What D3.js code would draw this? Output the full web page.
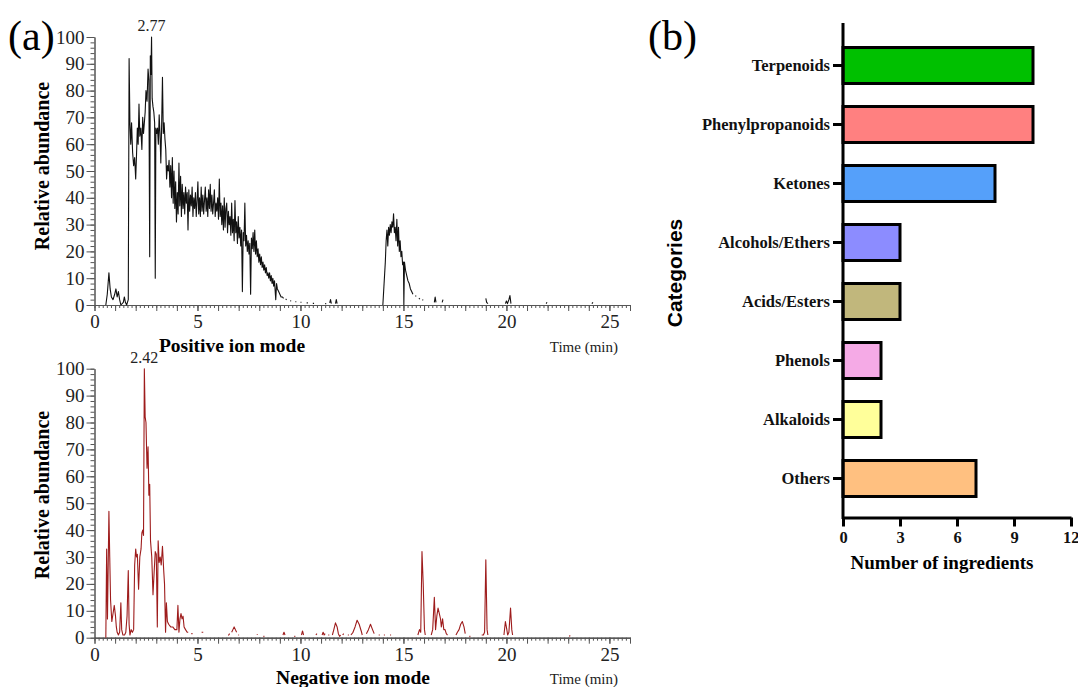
<!DOCTYPE html>
<html>
<head>
<meta charset="utf-8">
<script src="https://cdn.jsdelivr.net/npm/d3@7"></script>
<style>
  body { margin: 0; background: #fff; }
  svg { display: block; }
  .serif { font-family: "Liberation Serif", "Times New Roman", serif; }
</style>
</head>
<body>
<svg id="fig" width="1078" height="687"></svg>
<script>
'use strict';

// chromatogram traces, [time (min), relative abundance]; null = gap in the trace
const posTrace = [
  [0.55,0],[0.62,4],[0.7,12],[0.76,6],[0.82,3],[0.9,2],[0.98,4],[1.04,6],[1.1,3],[1.16,5],[1.22,2],[1.28,0],
  [1.4,1],[1.45,3],[1.5,1],[1.56,0],[1.6,1],[1.64,2],[1.68,92],[1.72,68],[1.76,60],[1.8,68],[1.85,57],[1.9,52],
  [1.95,55],[2.0,47],[2.04,56],[2.08,66],[2.12,60],[2.16,75],[2.2,63],[2.25,66],[2.3,58],[2.34,70],[2.38,64],
  [2.42,68],[2.46,72],[2.5,80],[2.55,76],[2.6,88],[2.64,84],[2.68,18],[2.71,93],[2.74,86],[2.77,100],[2.8,77],
  [2.84,74],[2.88,72],[2.92,68],[2.95,10],[2.98,66],[3.02,64],[3.06,66],[3.1,60],[3.14,71],[3.18,64],[3.22,53],
  [3.26,67],[3.3,85],[3.34,64],[3.38,68],[3.42,62],[3.46,58],[3.5,47],[3.54,52],[3.58,50],[3.62,54],[3.66,44],
  [3.7,52],[3.74,40],[3.78,55],[3.82,38],[3.86,50],[3.9,36],[3.94,46],[3.98,31],[4.02,42],[4.06,34],[4.1,53],
  [4.14,37],[4.18,48],[4.22,33],[4.26,45],[4.3,36],[4.34,42],[4.38,34],[4.42,44],[4.46,38],[4.5,42],[4.54,28],
  [4.58,43],[4.62,35],[4.66,41],[4.7,37],[4.74,44],[4.78,33],[4.82,40],[4.86,36],[4.9,42],[4.94,33],[4.98,39],
  [5.02,46],[5.06,34],[5.1,40],[5.14,33],[5.18,44],[5.22,35],[5.26,41],[5.3,34],[5.34,39],[5.38,44],[5.42,35],
  [5.46,40],[5.5,33],[5.54,43],[5.58,36],[5.62,45],[5.66,35],[5.7,41],[5.74,34],[5.78,38],[5.82,43],[5.86,33],
  [5.9,38],[5.94,35],[5.98,40],[6.02,32],[6.06,47],[6.1,33],[6.14,38],[6.18,30],[6.22,37],[6.26,28],[6.3,40],
  [6.34,29],[6.38,36],[6.42,38],[6.46,27],[6.5,35],[6.54,30],[6.58,33],[6.62,26],[6.66,38],[6.7,27],[6.74,32],
  [6.78,24],[6.82,39],[6.86,27],[6.9,31],[6.94,23],[6.98,33],[7.02,25],[7.06,29],[7.1,22],[7.14,28],[7.18,5],
  [7.22,27],[7.26,24],[7.3,38],[7.34,22],[7.38,26],[7.42,20],[7.46,24],[7.5,19],[7.54,23],[7.58,4],[7.62,25],
  [7.66,21],[7.7,27],[7.74,20],[7.78,28],[7.82,19],[7.86,24],[7.9,18],[7.94,21],[7.98,16],[8.02,19],[8.06,15],
  [8.1,18],[8.14,14],[8.18,16],[8.22,13],[8.26,15],[8.3,12],[8.34,14],[8.38,11],[8.42,12],[8.46,10],[8.5,12],
  [8.54,9],[8.58,11],[8.62,8],[8.66,10],[8.7,7],[8.74,9],[8.8,2],[8.84,8],[8.88,6],[8.94,5],[9.0,4],[9.06,3],
  [9.12,3],[9.18,2.5],[9.2,null],[9.28,2.2],[9.33,2],[9.36,null],[9.5,1.6],[9.55,1.5],[9.58,null],[9.75,1.2],
  [9.8,1.2],[9.83,null],[10.0,1],[10.05,1],[10.08,null],[10.3,0.8],[10.36,0.8],[10.4,null],[10.6,0.6],
  [10.66,0.6],[10.7,null],[11.2,0.5],[11.25,0.5],[11.3,null],[11.42,0.8],[11.46,2],[11.5,0.5],[11.53,null],
  [11.7,0.5],[11.74,2],[11.78,0.5],[11.8,null],
  [14.0,0],[14.06,8],[14.12,16],[14.16,24],[14.2,28],[14.24,22],[14.28,29],[14.32,26],[14.36,30],[14.4,27],
  [14.44,31],[14.48,29],[14.52,34],[14.56,27],[14.6,29],[14.64,24],[14.68,32],[14.72,22],[14.76,29],[14.8,20],
  [14.84,24],[14.88,18],[14.92,20],[14.96,15],[15.0,16],[15.02,0],[15.05,16],[15.1,13],[15.16,11],[15.22,9],
  [15.28,8],[15.34,6],[15.4,5],[15.46,4],[15.5,null],[15.58,3.5],[15.62,3.2],[15.65,null],[15.75,2.5],
  [15.8,2.2],[15.83,null],[15.92,2],[15.96,1.8],[16.0,null],[16.5,1],[16.54,3],[16.58,1],[16.6,null],
  [16.88,1],[16.92,2],[16.95,null],[19.0,2.5],[19.04,1],[19.1,0.5],[19.12,null],[19.95,0.5],[20.0,1.5],
  [20.05,0.5],[20.12,2],[20.17,3.5],[20.22,0.5],[20.25,null],[21.93,0.5],[21.97,1],[22.0,null],
  [24.15,0.5],[24.2,1],[24.25,null]
];

const negTrace = [
  [0.55,0],[0.59,33],[0.63,7],[0.7,47],[0.74,30],[0.78,14],[0.84,6],[0.9,9],[0.96,12],[1.02,8],[1.06,4],
  [1.1,2],[1.16,1],[1.22,2],[1.28,13],[1.32,3],[1.38,1],[1.46,1],[1.52,2],[1.58,8],[1.64,25],[1.68,5],[1.72,1],
  [1.78,3],[1.84,2],[1.9,3],[1.95,27],[2.0,33],[2.04,30],[2.08,31],[2.14,18],[2.2,30],[2.26,33],[2.3,39],
  [2.34,40],[2.38,38],[2.42,100],[2.46,82],[2.5,80],[2.55,63],[2.6,71],[2.64,53],[2.68,57],[2.72,36],[2.78,30],
  [2.84,16],[2.9,25],[2.95,32],[3.0,31],[3.05,4],[3.09,36],[3.14,28],[3.19,30],[3.24,27],[3.3,34],[3.36,25],
  [3.4,20],[3.45,2],[3.49,13],[3.54,6],[3.6,5],[3.7,4],[3.8,4],[3.9,3],[4.0,3],[4.05,12],[4.1,2],[4.15,7],
  [4.2,9],[4.25,7],[4.3,8],[4.35,4],[4.42,3],[4.5,2],[4.55,2],[4.58,null],[4.7,1.5],[4.76,1.5],[4.8,null],
  [5.2,2],[5.28,2],[5.3,null],[6.5,0.8],[6.56,1.5],[6.6,null],[6.66,2],[6.72,3],[6.78,4],[6.84,3],[6.9,2],
  [6.95,null],[6.98,1],[7.02,1],[7.05,null],[7.88,1.2],[7.92,1.2],[7.95,null],[8.2,0.5],[8.25,0.5],[8.28,null],
  [9.15,1],[9.2,2],[9.25,1],[9.28,null],[9.7,0.5],[9.75,0.5],[9.78,null],[10.05,1],[10.1,2.5],[10.15,1],
  [10.18,null],[10.75,1],[10.8,1.5],[10.83,null],[11.05,1],[11.1,2],[11.15,1],[11.2,1.5],[11.25,null],
  [11.35,1],[11.4,1],[11.43,null],[11.55,1],[11.62,3],[11.7,5.5],[11.78,4],[11.84,1.5],[11.9,0.5],[11.95,1],
  [11.98,null],[12.05,1],[12.1,1.5],[12.12,null],[12.3,1],[12.35,1],[12.4,null],[12.45,1],[12.55,2],[12.65,4],
  [12.75,6.5],[12.85,5],[12.95,2.5],[13.0,1],[13.05,null],[13.2,1.5],[13.3,3],[13.4,5],[13.5,3],[13.58,1.5],
  [13.62,null],[13.8,1],[13.85,1],[13.88,null],[14.05,1],[14.1,1],[14.13,null],[14.35,1],[14.4,1],[14.43,null],
  [15.7,1],[15.78,3],[15.84,2],[15.9,32],[15.96,20],[16.02,3],[16.06,1],[16.1,null],[16.35,1],[16.42,3],
  [16.5,15],[16.56,3],[16.62,8],[16.68,11],[16.74,9],[16.8,7],[16.84,4],[16.9,7],[16.96,3],[17.02,3],
  [17.08,1.5],[17.14,1],[17.2,null],[17.55,1],[17.62,2],[17.7,3],[17.78,5],[17.86,6],[17.94,4],[18.0,1.5],
  [18.05,null],[18.2,0.5],[18.25,0.5],[18.28,null],[18.8,1],[18.88,1],[18.94,2],[19.0,29],[19.06,3],[19.1,1],
  [19.15,null],[19.88,1],[19.95,6],[20.02,3],[20.06,1],[20.12,2],[20.2,11],[20.26,3],[20.3,1],[20.33,null],
  [23.05,0.5],[23.1,0.8],[23.13,null]
];

const posPeak = { t: 2.77, label: "2.77" };
const negPeak = { t: 2.42, label: "2.42" };

const timeTicks = [0, 5, 10, 15, 20, 25];
const abundTicks = [0, 10, 20, 30, 40, 50, 60, 70, 80, 90, 100];

// bar chart (b)
const categories = ["Terpenoids", "Phenylpropanoids", "Ketones", "Alcohols/Ethers",
                    "Acids/Esters", "Phenols", "Alkaloids", "Others"];
const counts = [10, 10, 8, 3, 3, 2, 2, 7];
const barColors = ["#00c000", "#ff8080", "#55a0fa", "#8c8cff", "#c1b77c", "#f5aae6", "#ffff9a", "#ffc080"];
const countTicks = [0, 3, 6, 9, 12];

const svg = d3.select("#fig");

// one chromatogram panel
function drawChrom(trace, peak, color, y0, y100, modeLabel, modeX, labelY, bottomY) {
    const x = d3.scaleLinear().domain([0, 26]).range([94.5, 630]);
    const y = d3.scaleLinear().domain([0, 100]).range([y0, y100]);
    const g = svg.append("g").attr("class", "serif");

    // x ticks: 0.2 min, 1 min, 5 min labelled
    const xa = g.append("g").attr("transform", `translate(0,${y0})`);
    xa.append("g").call(d3.axisBottom(x).tickValues(d3.range(0, 130).map(i => i / 5).concat([26]))
        .tickSize(3).tickSizeOuter(0).tickFormat(""));
    xa.append("g").call(d3.axisBottom(x).tickValues(d3.range(0, 27)).tickSize(6).tickSizeOuter(0).tickFormat(""));
    xa.append("g").call(d3.axisBottom(x).tickValues(timeTicks).tickSize(6).tickSizeOuter(0)
        .tickPadding(4).tickFormat(d3.format("d")));
    xa.selectAll(".domain").attr("stroke", "#555");
    xa.selectAll(".tick line").attr("stroke", "#555");
    xa.selectAll("text").attr("font-size", 19).attr("fill", "#222")
        .attr("font-family", "Liberation Serif");

    // y ticks: 2 minor, 10 labelled
    const ya = g.append("g").attr("transform", "translate(94.5,0)");
    ya.append("g").call(d3.axisLeft(y).tickValues(d3.range(0, 101, 2)).tickSize(4).tickSizeOuter(0).tickFormat(""));
    ya.append("g").call(d3.axisLeft(y).tickValues(abundTicks).tickSize(8).tickSizeOuter(0)
        .tickPadding(2).tickFormat(d3.format("d")));
    ya.selectAll(".domain").attr("stroke", "#555");
    ya.selectAll(".tick line").attr("stroke", "#555");
    ya.selectAll("text").attr("font-size", 19).attr("fill", "#222")
        .attr("font-family", "Liberation Serif");

    const line = d3.line()
        .defined(d => d[1] !== null)
        .x(d => x(d[0]))
        .y(d => y(d[1]));
    g.append("path")
        .datum(trace)
        .attr("d", line)
        .attr("fill", "none")
        .attr("stroke", color)
        .attr("stroke-width", 1.1)
        .attr("stroke-linejoin", "round");

    g.append("text")
        .attr("x", x(peak.t))
        .attr("y", y(100) - 6)
        .attr("text-anchor", "middle")
        .attr("font-size", 16)
        .attr("fill", "#222")
        .text(peak.label);

    g.append("text")
        .attr("transform", `translate(49,${labelY}) rotate(-90)`)
        .attr("text-anchor", "middle")
        .attr("font-size", 20)
        .attr("font-weight", "bold")
        .text("Relative abundance");

    g.append("text")
        .attr("x", modeX)
        .attr("y", bottomY)
        .attr("text-anchor", "middle")
        .attr("font-size", 19.5)
        .attr("font-weight", "bold")
        .text(modeLabel);

    g.append("text")
        .attr("x", 618)
        .attr("y", bottomY)
        .attr("text-anchor", "end")
        .attr("font-size", 15)
        .attr("fill", "#222")
        .text("Time (min)");
}

drawChrom(posTrace, posPeak, "#111", 305, 37, "Positive ion mode", 232, 166, 352);
drawChrom(negTrace, negPeak, "#9e1c1c", 637.7, 368.7, "Negative ion mode", 353, 495, 684);

// panel letters
svg.append("text").attr("class", "serif").attr("x", 8).attr("y", 50)
    .attr("font-size", 42).text("(a)");
svg.append("text").attr("class", "serif").attr("x", 648).attr("y", 50)
    .attr("font-size", 42).text("(b)");

// bar chart
const bx = d3.scaleLinear().domain([0, 12]).range([843, 1071]);
const by = d3.scaleBand().domain(categories).range([36, 508]).paddingInner(0.39).paddingOuter(0.195);
const bg = svg.append("g").attr("class", "serif");

bg.selectAll("rect.bar")
    .data(categories)
    .enter()
    .append("rect")
        .attr("class", "bar")
        .attr("x", bx(0))
        .attr("y", d => by(d))
        .attr("width", (d, i) => bx(counts[i]) - bx(0))
        .attr("height", by.bandwidth())
        .attr("fill", (d, i) => barColors[i])
        .attr("stroke", "#000")
        .attr("stroke-width", 3);

const bxa = bg.append("g").attr("transform", "translate(0,517.5)")
    .call(d3.axisBottom(bx).tickValues(countTicks).tickSize(9).tickSizeOuter(0).tickPadding(5).tickFormat(d3.format("d")));
// last label sits against the right edge, as in the original
bxa.selectAll(".tick text").filter(d => d === 12).attr("text-anchor", "end").attr("dx", 8);
const bya = bg.append("g").attr("transform", "translate(843,0)")
    .call(d3.axisLeft(by).tickSize(10).tickSizeOuter(0).tickPadding(3));
bya.select(".domain").attr("d", "M0,23V519");
bg.selectAll(".domain, .tick line").attr("stroke", "#000").attr("stroke-width", 3);
bg.selectAll(".tick text").attr("font-size", 16.5).attr("font-weight", "bold")
    .attr("font-family", "Liberation Serif").attr("fill", "#111");

bg.append("text")
    .attr("x", 942)
    .attr("y", 569)
    .attr("text-anchor", "middle")
    .attr("font-size", 19)
    .attr("font-weight", "bold")
    .text("Number of ingredients");

svg.append("text")
    .attr("transform", "translate(682,273) rotate(-90)")
    .attr("text-anchor", "middle")
    .attr("font-family", "Liberation Sans, Arial, sans-serif")
    .attr("font-size", 21)
    .attr("font-weight", "bold")
    .text("Categories");
</script>
</body>
</html>
